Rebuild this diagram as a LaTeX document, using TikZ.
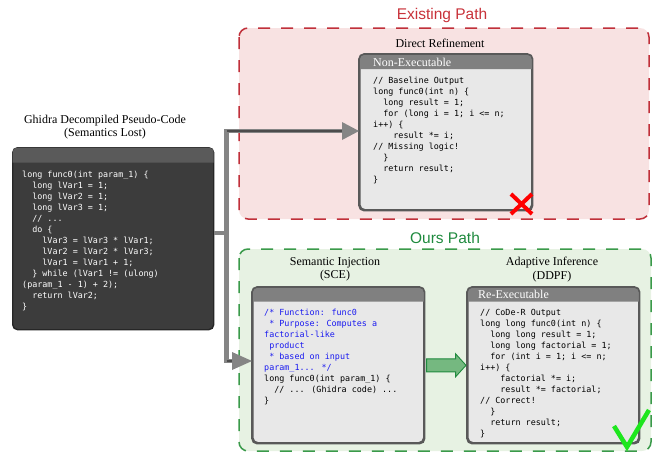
\documentclass[tikz,border=0pt]{standalone}
\usepackage{fontspec}
\setmainfont{Liberation Serif}
\newfontfamily\sansf{Liberation Sans}
\newfontfamily\codef{DejaVu Sans Mono}
\usetikzlibrary{calc,shapes.arrows}
\definecolor{redtxt}{HTML}{C8323A}
\definecolor{redfill}{HTML}{F8E2E2}
\definecolor{redline}{HTML}{C0303A}
\definecolor{grntxt}{HTML}{1F8A3E}
\definecolor{grnfill}{HTML}{E7F2E3}
\definecolor{grnline}{HTML}{3A9A4A}
\definecolor{darkbody}{HTML}{3C3C3C}
\definecolor{darkhdr}{HTML}{5A5A5A}
\definecolor{codebody}{HTML}{E8E8E8}
\definecolor{codehdr}{HTML}{808080}
\definecolor{codeblue}{HTML}{1A1AF0}
\definecolor{arrowgray}{HTML}{858585}
\definecolor{okgreen}{HTML}{1EE61E}
\begin{document}
\begin{tikzpicture}[x=1pt,y=-1pt,
  pathbox/.style={dashed,dash pattern=on 12pt off 11pt,line width=1.5pt,rounded corners=9pt},
  boxlabel/.style={font=\fontsize{12}{13.5}\selectfont,align=center,inner sep=0pt},
  pathtitle/.style={font=\sansf\fontsize{15.5}{17}\selectfont,inner sep=0pt},
  codebox/.style={draw=black!65,line width=1.6pt,fill=codebody,rounded corners=5pt,inner sep=0pt},
  codetext/.style={font=\codef\fontsize{8.4}{11}\selectfont,align=left,anchor=north west,inner sep=0pt},
  hdrtext/.style={font=\fontsize{12}{13}\selectfont,text=white,anchor=west,inner sep=0pt},
  shaft/.style={line width=4.5pt,draw=arrowgray},
  core/.style={line width=1.6pt,draw=black!70},
  gtip/.style={fill=arrowgray,draw=none}
]
\useasboundingbox (0,0) rectangle (657,453);

% ---------- path containers ----------
\draw[pathbox,draw=redline,fill=redfill] (239,28) rectangle (649,219);
\node[pathtitle,text=redtxt] (exist) at (442,15) {Existing Path};
\draw[pathbox,draw=grnline,fill=grnfill] (239,249) rectangle (651,451);
\node[pathtitle,text=grntxt] (ours) at (445,238) {Ours Path};

% ---------- source (Ghidra) ----------
\node[boxlabel] (srclab) at (105,127) {Ghidra Decompiled Pseudo-Code\\(Semantics Lost)};
\node[draw=black!85,line width=1.4pt,fill=darkbody,rounded corners=5pt,inner sep=0pt,
      minimum width=201pt,minimum height=182pt,anchor=north west] (src) at (12,147) {};
\fill[darkhdr] ($(src.north west)+(0.7,15.5)$) {[rounded corners=4.3pt] -- ($(src.north west)+(0.7,0.7)$) -- ($(src.north east)+(-0.7,0.7)$)} -- ($(src.north east)+(-0.7,15.5)$) -- cycle;
\node[codetext,text=white] (srccode) at (22,171) {long func0(int param\_1) \{\\
~~long lVar1 = 1;\\
~~long lVar2 = 1;\\
~~long lVar3 = 1;\\
~~// ...\\
~~do \{\\
~~~~lVar3 = lVar3 * lVar1;\\
~~~~lVar2 = lVar2 * lVar3;\\
~~~~lVar1 = lVar1 + 1;\\
~~\} while (lVar1 != (ulong)\\
(param\_1 - 1) + 2);\\
~~return lVar2;\\
\}};

% ---------- Direct refinement box ----------
\node[boxlabel] (drlab) at (440,43) {Direct Refinement};
\node[codebox,minimum width=172pt,minimum height=155pt,anchor=north west] (ne) at (359,54) {};
\fill[codehdr] ($(ne.north west)+(0.8,15)$) {[rounded corners=4.2pt] -- ($(ne.north west)+(0.8,0.8)$) -- ($(ne.north east)+(-0.8,0.8)$)} -- ($(ne.north east)+(-0.8,15)$) -- cycle;
\draw[draw=black!65,line width=1.6pt,rounded corners=5pt] (ne.north west) rectangle (ne.south east);
\node[hdrtext] (nehdr) at (373,62) {Non-Executable};
\node[codetext] (necode) at (373,77) {// Baseline Output\\
long func0(int n) \{\\
~~long result = 1;\\
~~for (long i = 1; i <= n;\\
i++) \{\\
~~~~result *= i;\\
// Missing logic!\\
~~\}\\
~~return result;\\
\}};

% ---------- SCE box ----------
\node[boxlabel] (scelab) at (335,269.5) {Semantic Injection\\(SCE)};
\node[codebox,minimum width=171pt,minimum height=155pt,anchor=north west] (sce) at (252,287) {};
\fill[codehdr] ($(sce.north west)+(0.8,14.5)$) {[rounded corners=4.2pt] -- ($(sce.north west)+(0.8,0.8)$) -- ($(sce.north east)+(-0.8,0.8)$)} -- ($(sce.north east)+(-0.8,14.5)$) -- cycle;
\draw[draw=black!65,line width=1.6pt,rounded corners=5pt] (sce.north west) rectangle (sce.south east);
\node[codetext] (scecode) at (264,309) {\textcolor{codeblue}{/* Function: func0}\\
\textcolor{codeblue}{~* Purpose: Computes a}\\
\textcolor{codeblue}{factorial-like}\\
\textcolor{codeblue}{~product}\\
\textcolor{codeblue}{~* based on input}\\
\textcolor{codeblue}{param\_1... */}\\
long func0(int param\_1) \{\\
~~// ... (Ghidra code) ...\\
\}};

% ---------- DDPF box ----------
\node[boxlabel] (ddpflab) at (552,269.5) {Adaptive Inference\\(DDPF)};
\node[codebox,minimum width=171pt,minimum height=155pt,anchor=north west] (dd) at (467,287) {};
\fill[codehdr] ($(dd.north west)+(0.8,14.5)$) {[rounded corners=4.2pt] -- ($(dd.north west)+(0.8,0.8)$) -- ($(dd.north east)+(-0.8,0.8)$)} -- ($(dd.north east)+(-0.8,14.5)$) -- cycle;
\draw[draw=black!65,line width=1.6pt,rounded corners=5pt] (dd.north west) rectangle (dd.south east);
\node[hdrtext] (ddhdr) at (478,294) {Re-Executable};
\node[codetext] (ddcode) at (480,309) {// CoDe-R Output\\
long long func0(int n) \{\\
~~long long result = 1;\\
~~long long factorial = 1;\\
~~for (int i = 1; i <= n;\\
i++) \{\\
~~~~factorial *= i;\\
~~~~result *= factorial;\\
// Correct!\\
~~\}\\
~~return result;\\
\}};

% ---------- connectors ----------
\coordinate (jtop) at (226.5,131);
\coordinate (jmid) at (226.5,233);
\coordinate (jbot) at (226.5,361);
\draw[shaft] (src.east |- jmid) -- (jmid);
\draw[shaft,line cap=rect] (jtop) -- (jbot);
\draw[shaft] (jtop) -- ($(ne.west |- jtop)+(-14,0)$);
\draw[core] (jtop) -- ($(ne.west |- jtop)+(-14,0)$);
\fill[gtip] (ne.west |- jtop) -- ++(-17,-9) -- ++(0,18) -- cycle;
\draw[shaft] (jbot) -- ($(sce.west |- jbot)+(-16,0)$);
\draw[core] (jbot) -- ($(sce.west |- jbot)+(-16,0)$);
\fill[gtip] (sce.west |- jbot) -- ++(-20,-9) -- ++(0,18) -- cycle;

% green block arrow SCE -> DDPF
\draw[fill=grnline!70!white,draw=grntxt,line width=0.9pt,line join=miter]
  ($(sce.east)+(2,-6.5)$) -- ++(29,0) -- ++(0,-5) -- ($(dd.west)+(-1,0)$) -- ($(sce.east)+(31,11.5)$) -- ++(0,-5) -- ($(sce.east)+(2,6.5)$) -- cycle;

% marks
\draw[red,line width=4pt] (511,194) -- (532,214) (532,194) -- (511,214);
\draw[okgreen,line width=4.5pt,line join=miter] (614,426) -- (627,447) -- (649,410);
\end{tikzpicture}
\end{document}
